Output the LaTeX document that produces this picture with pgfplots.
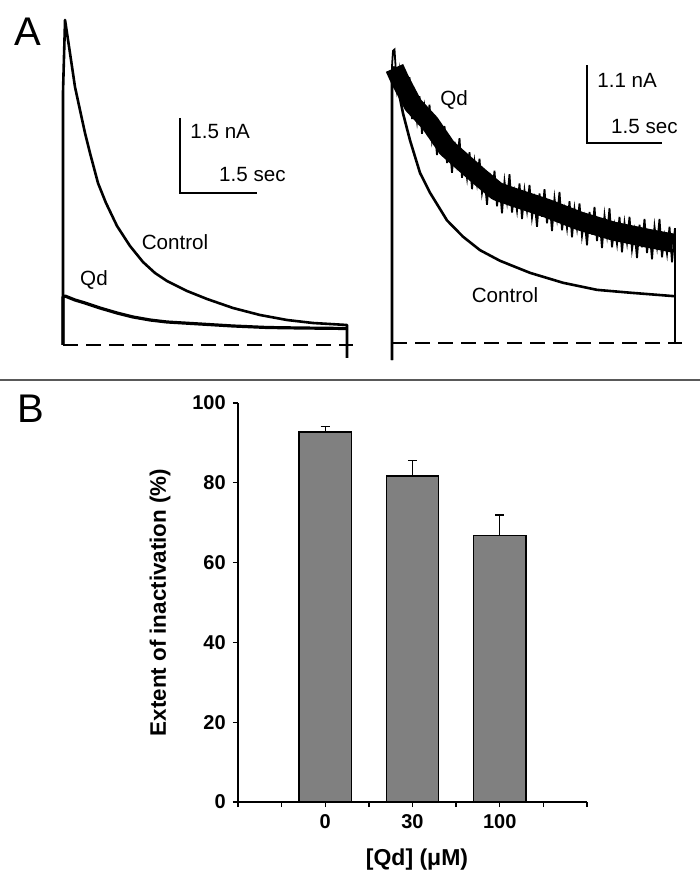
\documentclass[border=0pt]{standalone}
\usepackage{pgfplots}
\pgfplotsset{compat=1.18}
\usepackage{graphicx}
\usepackage{fontspec}
\setmainfont{Liberation Sans}
\begin{document}
\begin{tikzpicture}
\path[use as bounding box] (0pt,0pt) rectangle (350pt,444.5pt);
% panel letters and separator
\node[font=\fontsize{20}{20}\selectfont, inner sep=0pt] at (13.75pt,428.75pt) {A};
\node[font=\fontsize{20}{20}\selectfont, inner sep=0pt] at (15.25pt,240pt) {B};
\draw[line width=0.8pt, black!65] (0pt,254.5pt) -- (350pt,254.5pt);

% ---------- Panel A, left traces ----------
\begin{axis}[at={(26.37pt,257pt)}, anchor=south west,
  x=25.65pt, y=25pt, xmin=-0.2, xmax=5.8, ymin=-0.6, ymax=6.7,
  hide axis, clip=false]
\addplot[black, line width=0.75pt, dash pattern=on 7.5pt off 4pt] coordinates {(0,0) (5.65,0)};
\addplot[black, line width=1.3pt, line join=round] coordinates {
(0,0) (0,5.06) (0.04,6.50) (0.136,5.84) (0.234,5.16) (0.331,4.70) (0.429,4.24)
(0.526,3.84) (0.682,3.24) (0.838,2.84) (1.053,2.38) (1.306,1.98) (1.559,1.66)
(1.793,1.44) (2.027,1.28) (2.417,1.08) (2.807,0.92) (3.314,0.74) (3.840,0.60)
(4.366,0.50) (4.873,0.44) (5.536,0.40) (5.536,-0.26)};
\addplot[black, line width=1.6pt, line join=round] coordinates {
(0,0) (0,0.96) (0.04,0.98) (0.234,0.90) (0.429,0.84) (0.721,0.74) (1.053,0.64)
(1.365,0.56) (1.696,0.50) (2.027,0.46) (2.671,0.42) (3.314,0.38) (3.977,0.35)
(4.620,0.34) (5.536,0.33)};
% scale bar 1.5 nA / 1.5 s
\addplot[black, line width=0.7pt] coordinates {(2.281,4.54) (2.281,3.04) (3.781,3.04)};
\node[anchor=west, font=\fontsize{10.3}{12}\selectfont, inner sep=0pt] at (axis cs:2.476,4.26) {1.5 nA};
\node[anchor=east, font=\fontsize{10.3}{12}\selectfont, inner sep=0pt] at (axis cs:4.347,3.40) {1.5 sec};
\node[font=\fontsize{10.3}{12}\selectfont, inner sep=0pt] at (axis cs:2.183,2.05) {Control};
\node[font=\fontsize{10.3}{12}\selectfont, inner sep=0pt] at (axis cs:0.604,1.30) {Qd};
\end{axis}

% ---------- Panel A, right traces ----------
\begin{axis}[at={(191pt,258.8pt)}, anchor=south west,
  x=25pt, y=35.45pt, xmin=-0.2, xmax=5.9, ymin=-0.4, ymax=4.4,
  hide axis, clip=false]
\addplot[black, line width=0.75pt, dash pattern=on 7.5pt off 4pt] coordinates {(0,0) (5.8,0)};
\addplot[black, line width=1.3pt, line join=round] coordinates {
(0,-0.24) (0,3.81) (0.04,3.89) (0.06,3.81) (0.22,3.24) (0.36,2.86) (0.56,2.40)
(0.76,2.12) (1.10,1.73) (1.42,1.50) (1.76,1.31) (2.16,1.16) (2.76,0.99)
(3.42,0.85) (4.10,0.75) (4.76,0.71) (5.66,0.66)};
% dense core of the noisy Qd trace
\addplot[black, line width=9.5pt, line join=round] coordinates {
(0.05,3.88) (0.16,3.71) (0.42,3.36) (0.76,3.10) (1.10,2.75) (1.42,2.55) (1.76,2.34)
(2.10,2.14) (2.42,2.06) (3.10,1.90) (3.76,1.72) (4.42,1.58) (5.10,1.48) (5.62,1.41)};
\addplot[black, line width=0.9pt, line join=miter] coordinates {
(0,-0.24) (0,3.90) (0.02,4.12)
(0.05,4.14) (0.10,3.59) (0.15,3.84) (0.20,3.37) (0.25,3.77) (0.30,3.43) (0.35,3.75) (0.40,3.16)
(0.45,3.41) (0.50,3.13) (0.55,3.48) (0.60,2.95) (0.65,3.32) (0.70,3.03) (0.75,3.36) (0.80,2.86)
(0.85,3.06) (0.90,2.65) (0.95,3.08) (1.00,2.71) (1.05,3.06) (1.10,2.54) (1.15,2.84) (1.20,2.40)
(1.25,2.84) (1.30,2.54) (1.35,2.89) (1.40,2.33) (1.45,2.60) (1.50,2.33) (1.55,2.69) (1.60,2.17)
(1.65,2.55) (1.70,2.26) (1.75,2.60) (1.80,2.12) (1.85,2.34) (1.90,1.95) (1.95,2.40) (2.00,2.06)
(2.05,2.43) (2.10,1.93) (2.15,2.25) (2.20,1.83) (2.25,2.28) (2.30,2.00) (2.35,2.38) (2.40,1.84)
(2.45,2.12) (2.50,1.87) (2.55,2.25) (2.60,1.75) (2.65,2.15) (2.70,1.87) (2.75,2.23) (2.80,1.77)
(2.85,2.01) (2.90,1.64) (2.95,2.11) (3.00,1.78) (3.05,2.17) (3.10,1.69) (3.15,2.01) (3.20,1.58)
(3.25,2.04) (3.30,1.76) (3.35,2.13) (3.40,1.59) (3.45,1.87) (3.50,1.62) (3.55,2.00) (3.60,1.49)
(3.65,1.89) (3.70,1.62) (3.75,1.97) (3.80,1.51) (3.85,1.75) (3.90,1.38) (3.95,1.85) (4.00,1.53)
(4.05,1.92) (4.10,1.44) (4.15,1.76) (4.20,1.34) (4.25,1.80) (4.30,1.52) (4.35,1.90) (4.40,1.35)
(4.45,1.65) (4.50,1.40) (4.55,1.78) (4.60,1.28) (4.65,1.69) (4.70,1.42) (4.75,1.78) (4.80,1.32)
(4.85,1.57) (4.90,1.20) (4.95,1.67) (5.00,1.35) (5.05,1.75) (5.10,1.27) (5.15,1.59) (5.20,1.18)
(5.25,1.64) (5.30,1.36) (5.35,1.75) (5.40,1.21) (5.45,1.50) (5.50,1.26) (5.55,1.64) (5.60,1.14)
(5.65,1.55) (5.66,1.62) (5.66,0)};
% scale bar 1.1 nA / 1.5 s
\addplot[black, line width=0.7pt] coordinates {(3.90,3.92) (3.90,2.82) (5.40,2.82)};
\node[anchor=west, font=\fontsize{10.3}{12}\selectfont, inner sep=0pt] at (axis cs:4.10,3.70) {1.1 nA};
\node[anchor=east, font=\fontsize{10.3}{12}\selectfont, inner sep=0pt] at (axis cs:5.72,3.05) {1.5 sec};
\node[font=\fontsize{10.3}{12}\selectfont, inner sep=0pt] at (axis cs:1.24,3.43) {Qd};
\node[font=\fontsize{10.3}{12}\selectfont, inner sep=0pt] at (axis cs:2.26,0.68) {Control};
\end{axis}

% ---------- Panel B, bar chart ----------
\begin{axis}[at={(119pt,43.5pt)}, anchor=south west,
  width=174.5pt, height=199.5pt, scale only axis,
  xmin=-1, xmax=3, ymin=0, ymax=100,
  axis x line*=bottom, axis y line*=left,
  axis line style={line width=0.7pt, -},
  ytick={0,20,40,60,80,100},
  xtick={-1,-0.5,0,0.5,1,1.5,2,2.5,3},
  xticklabels={,,0,,30,,100,,},
  tick align=outside, major tick length=2.6pt,
  tick style={line width=0.7pt, black},
  ticklabel style={font=\fontsize{10}{12}\selectfont\bfseries},
  /pgf/number format/assume math mode=true,
  every axis y label/.style={at={(axis description cs:-0.2235,0.5)}, rotate=90, anchor=center, font=\fontsize{11.2}{13}\selectfont\bfseries},
  every axis x label/.style={at={(axis description cs:0.513,-0.145)}, anchor=center, font=\fontsize{11.5}{13}\selectfont\bfseries},
  ylabel={Extent of inactivation (\%)},
  xlabel={[Qd] (μM)},
  clip=false]
\addplot[ybar, bar width=0.6, fill={rgb,255:red,128;green,128;blue,128}, draw=black, line width=0.7pt,
  error bars/.cd, y dir=plus, y explicit,
  error bar style={line width=0.7pt, black},
  error mark options={line width=0.7pt, black, mark size=2.3pt, rotate=90}]
  coordinates {(0,92.7) +- (0,1.4) (1,81.7) +- (0,3.9) (2,66.8) +- (0,5.1)};
\end{axis}
\end{tikzpicture}
\end{document}
